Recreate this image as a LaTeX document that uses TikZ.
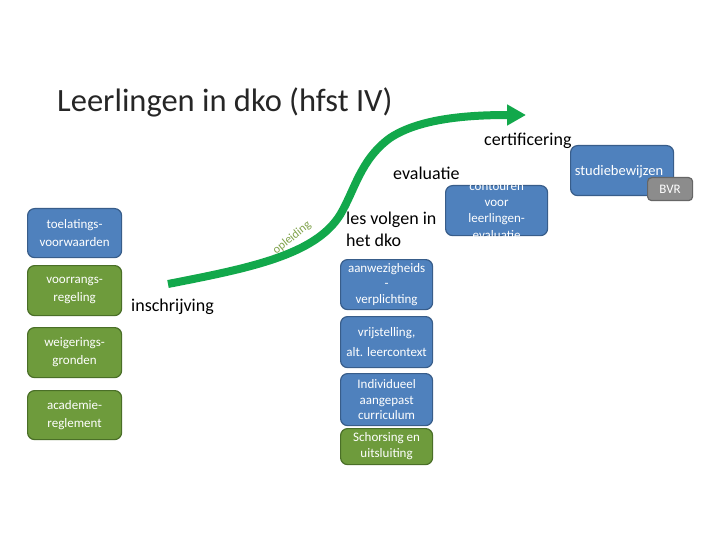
\documentclass[tikz,border=0pt]{standalone}
\usepackage{fontspec}
\setmainfont{Carlito}
\usetikzlibrary{arrows.meta}
\definecolor{bbox}{HTML}{4F81BD}
\definecolor{bdraw}{HTML}{385D8A}
\definecolor{gbox}{HTML}{6E9B3C}
\definecolor{gdraw}{HTML}{4A6F27}
\definecolor{arrowg}{HTML}{12A84B}
\definecolor{greybox}{HTML}{8C8C8C}
\definecolor{greydraw}{HTML}{666666}
\definecolor{oplg}{HTML}{7FA24A}
\tikzset{
  boxbase/.style={rounded corners=7pt, line width=1.2pt, text=white, align=center, font=\fontsize{13}{15.5}\selectfont, inner sep=0pt, anchor=north west},
  leftfont/.style={font=\fontsize{13}{18}\selectfont},
  bluebox/.style={boxbase, fill=bbox, draw=bdraw},
  greenbox/.style={boxbase, fill=gbox, draw=gdraw},
  lbl/.style={font=\fontsize{18}{22}\selectfont, text=black, inner sep=0pt}
}
\begin{document}
\begin{tikzpicture}[x=1pt,y=-1pt]
\useasboundingbox (0,0) rectangle (720,540);
\fill[white] (0,0) rectangle (720,540);
% title
\node[anchor=west, font=\fontsize{32.5}{36}\selectfont, text=black!85, inner sep=0pt] (title) at (57,102) {Leerlingen in dko (hfst IV)};
% left column
\node[bluebox, leftfont, minimum width=94pt, minimum height=49pt] (toel) at (27,208) {toelatings-\\voorwaarden};
\node[greenbox, leftfont, minimum width=94pt, minimum height=50pt] (voor) at (27,265) {voorrangs-\\regeling};
\node[greenbox, leftfont, minimum width=94pt, minimum height=50pt] (weig) at (27,327) {weigerings-\\gronden};
\node[greenbox, leftfont, minimum width=94pt, minimum height=49pt] (acad) at (27,390) {academie-\\reglement};
% middle column
\node[bluebox, minimum width=92pt, minimum height=50pt] (aanw) at (340,259) {aanwezigheids\\-\\verplichting};
\node[bluebox, font=\fontsize{13}{20}\selectfont, minimum width=92pt, minimum height=51pt] (vrij) at (340,316) {vrijstelling,\\alt. leercontext};
\node[bluebox, minimum width=92pt, minimum height=52pt] (indi) at (340,373) {Individueel\\aangepast\\curriculum};
\node[greenbox, minimum width=92pt, minimum height=36pt, text depth=3pt] (scho) at (340,428) {Schorsing en\\uitsluiting};
% contouren box with clipped text
\node[bluebox, minimum width=102pt, minimum height=50pt] (cont) at (445,185) {};
\begin{scope}
\clip (cont.north west) rectangle (cont.south east);
\node[text=white, align=center, font=\fontsize{13}{16.3}\selectfont, inner sep=0pt] (conttxt) at (cont.center) {contouren\\voor\\leerlingen-\\evaluatie};
\end{scope}
% studiebewijzen
\node[bluebox, minimum width=103pt, minimum height=50pt] (stud) at (570,145) {};
\node[text=white, font=\fontsize{14.5}{16}\selectfont, inner sep=0pt] (studtxt) at (619,172) {studiebewijzen};
\node[boxbase, fill=greybox, draw=greydraw, rounded corners=4pt, font=\fontsize{13}{15}\selectfont, minimum width=45pt, minimum height=23pt] (bvr) at (647,177) {BVR};
% green arrow
\coordinate (s) at (168,284);
\coordinate (t) at (526,115);
\draw[arrowg, line width=8pt, -{Triangle[length=19pt,width=20pt]}] (s) .. controls (250,268) and (315,255) .. (340,215) .. controls (355,190) and (360,160) .. (390,138) .. controls (420,118) and (470,115) .. (t);
% opleiding label along the curve
\node[rotate=39, text=oplg, font=\fontsize{12}{14}\selectfont, inner sep=0pt] (opl) at (292,238) {opleiding};
% labels
\node[lbl, anchor=west] (cert) at (484,141) {certificering};
\node[lbl, anchor=west] (eval) at (393,173) {evaluatie};
\node[lbl, anchor=north west, align=left, font=\fontsize{18}{22}\selectfont] (les) at (346,212) {les volgen in\\het dko};
\node[lbl, anchor=west] (insc) at (131,307) {inschrijving};
\end{tikzpicture}
\end{document}
